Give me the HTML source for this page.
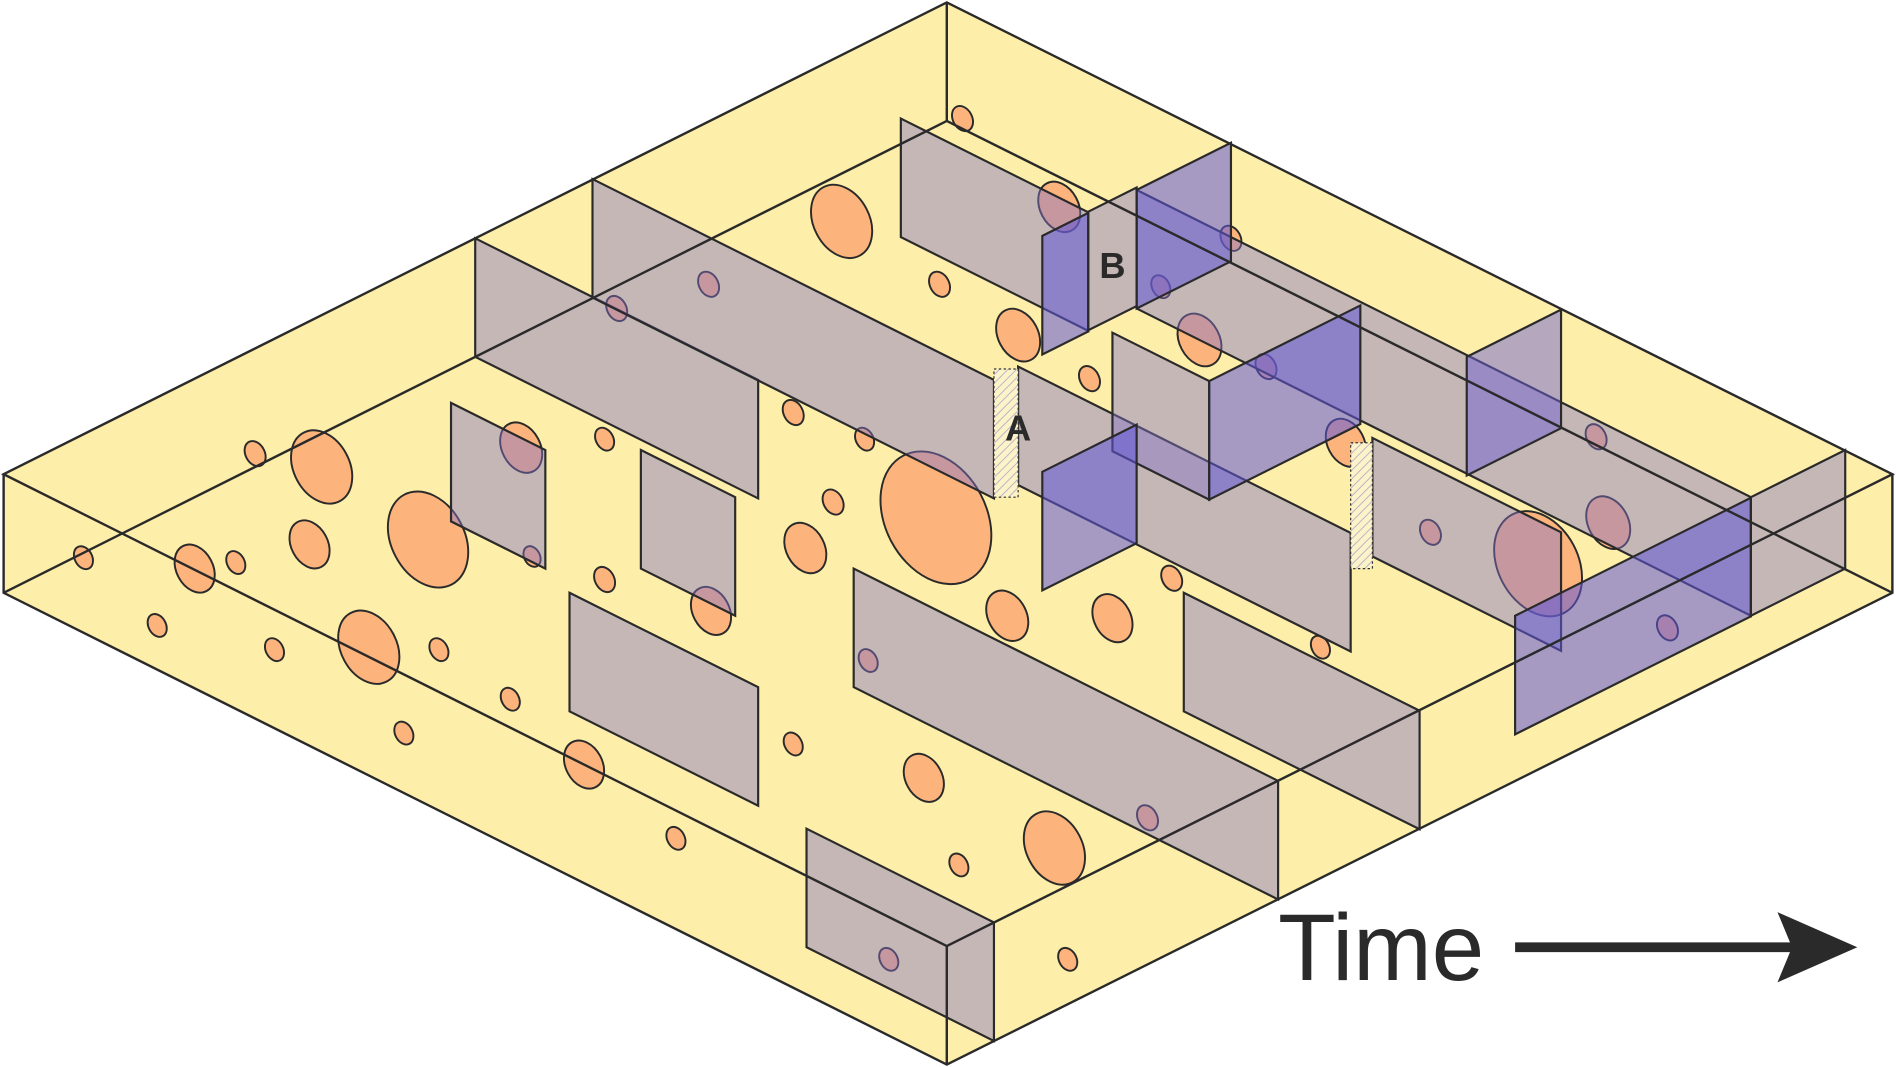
<!DOCTYPE html>
<html><head><meta charset="utf-8"><style>
html,body{margin:0;padding:0;background:#fff;}
svg{display:block;}
</style></head><body>
<svg id="main" width="1896" height="1067" viewBox="0 0 1568 882" preserveAspectRatio="none" xmlns="http://www.w3.org/2000/svg">
<defs>
<pattern id="hatch" width="5" height="5" patternUnits="userSpaceOnUse" patternTransform="rotate(45)">
<rect width="5" height="5" fill="#fdf3c8"/><line x1="0" y1="0" x2="0" y2="5" stroke="#b8b0c8" stroke-width="1.5"/>
</pattern>
</defs>
<g>
<polygon points="3,392 783,2 1565,392 783,782" fill="#fdeeaa"/>
<polygon points="3,392 783,782 783,880 3,490" fill="#fdeeaa"/>
<polygon points="783,782 1565,392 1565,490 783,880" fill="#fdeeaa"/>
</g>
<g id="ellipses"></g>
<g id="panels"></g>
<g fill="none" stroke="#2a2a2a" stroke-width="2">
<polyline points="3,490 783,100 1565,490"/>
<line x1="783" y1="2" x2="783" y2="100"/>
<polygon points="3,392 783,2 1565,392 783,782"/>
<polyline points="3,392 3,490 783,880 1565,490 1565,392"/>
<line x1="783" y1="782" x2="783" y2="880"/>
</g>
<rect x="822" y="305" width="20" height="106" fill="url(#hatch)" stroke="#333" stroke-dasharray="2,2"/>
<rect x="1117" y="366" width="18" height="104" fill="url(#hatch)" stroke="#333" stroke-dasharray="2,2"/>
<text x="842" y="364" text-anchor="middle" font-family="Liberation Sans, sans-serif" font-weight="bold" font-size="30" fill="#2a2a2a">A</text>
<text x="920" y="230" text-anchor="middle" font-family="Liberation Sans, sans-serif" font-weight="bold" font-size="30" fill="#2a2a2a">B</text>
<text x="1057" y="810" font-family="Liberation Sans, sans-serif" font-size="78" fill="#2a2a2a">Time</text>
<g>
<line x1="1253" y1="783" x2="1490" y2="783" stroke="#2a2a2a" stroke-width="8"/>
<polygon points="1470,754 1536,783 1470,812 1482,783" fill="#2a2a2a"/>
</g>
</svg>
<script>
// particles: cx, cy, size
const ex=[796,696,876,777,586,510,842,992,1018,960,901,1047,656,715,500,431,211,266,354,256,69,161,195,774,689,666,1113,1320,1330,1183,1272,440,500,588,833,920,969,130,227,305,363,718,1092,422,334,656,483,764,949,872,559,793,1379,735,883];
const ey=[98,183,171,235,235,255,277,281,197,237,313,303,341,363,363,370,375,386,446,450,461,470,465,428,415,453,366,361,432,440,466,460,479,505,509,511,478,517,537,535,537,546,535,578,606,615,632,643,676,701,693,715,519,793,793];
const er=[11,32,22,11,11,11,23,23,11,10,11,11,11,10,10,22,11,32,42,21,10,21,10,58,11,22,21,11,23,11,46,9,11,21,22,21,11,10,10,32,10,10,10,10,10,10,21,21,11,32,10,10,11,10,10];
// gray panels along time axis: x, y, length
const gx=[393,490,745,842,940,920,1135,373,530,471,706,979,667];
const gy=[197,148,98,303,157,275,362,333,372,490,470,490,685];
const gl=[234,332,155,275,508,80,156,78,78,156,351,195,155];
// cross panels: x, y, length, type (1 blue,0 gray)
const cx=[862,900,940,862,1000,1253,1448,1213];
const cy=[195,175,157,390,315,509,411,295];
const cl=[38,40,78,78,125,195,78,78];
const ct=[1,0,1,1,1,1,0,2];
const NS='http://www.w3.org/2000/svg';
const eg=document.getElementById('ellipses');
for(let i=0;i<ex.length;i++){
 const e=document.createElementNS(NS,'ellipse');
 
 
 e.setAttribute('cx',ex[i]);e.setAttribute('cy',ey[i]);
 e.setAttribute('rx',er[i]*0.72);e.setAttribute('ry',er[i]);
 e.setAttribute('transform','rotate(-28 '+ex[i]+' '+ey[i]+')');
 e.setAttribute('fill','#fdb47c');e.setAttribute('stroke','#2a2a2a');e.setAttribute('stroke-width','1.6');
 eg.appendChild(e);
}
const pg=document.getElementById('panels');
const H=98;
const GRAY='rgba(130,115,200,0.45)';
for(let i=0;i<gx.length;i++){
 const x=gx[i],y=gy[i],L=gl[i];
 const p=document.createElementNS(NS,'polygon');
 
 
 p.setAttribute('points',x+','+y+' '+(x+L)+','+(y+L/2)+' '+(x+L)+','+(y+L/2+H)+' '+x+','+(y+H));
 p.setAttribute('fill',GRAY);p.setAttribute('stroke','#2a2a2a');p.setAttribute('stroke-width','1.8');
 pg.appendChild(p);
}
for(let i=0;i<cx.length;i++){
 const x=cx[i],y=cy[i],L=cl[i];
 const p=document.createElementNS(NS,'polygon');
 
 
 p.setAttribute('points',x+','+y+' '+(x+L)+','+(y-L/2)+' '+(x+L)+','+(y-L/2+H)+' '+x+','+(y+H));
 p.setAttribute('fill',ct[i]===1?'rgba(95,85,215,0.55)':(ct[i]===2?'rgba(110,95,210,0.5)':GRAY));
 p.setAttribute('stroke','#2a2a2a');p.setAttribute('stroke-width','1.8');
 pg.appendChild(p);
}
</script>
</body></html>
